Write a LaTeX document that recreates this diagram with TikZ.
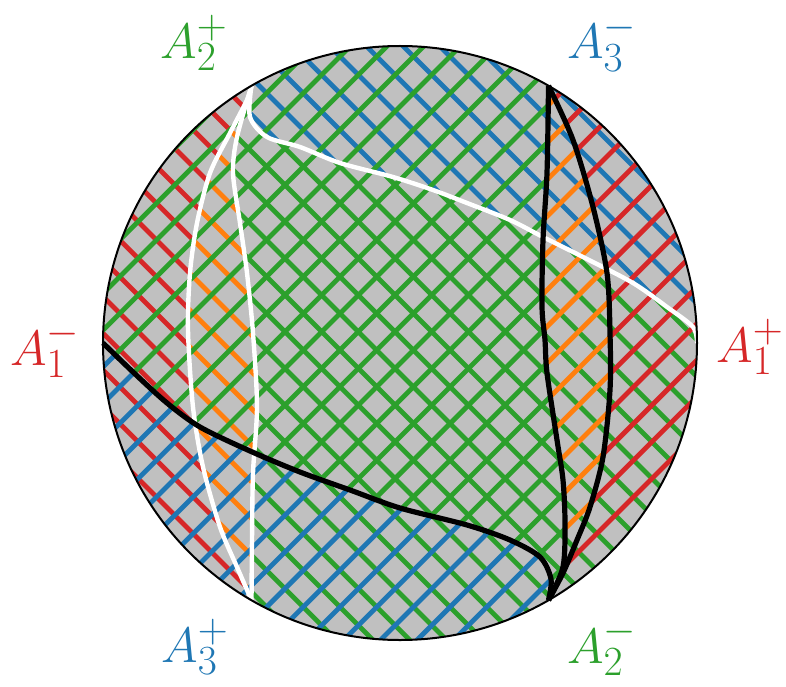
\documentclass[tikz,border=0pt]{standalone}
\usepackage{tikz}
\DeclareMathSizes{24}{24}{20}{16}

\definecolor{tabred}{RGB}{214,39,40}
\definecolor{tabblue}{RGB}{31,119,180}
\definecolor{tabgreen}{RGB}{44,160,44}
\definecolor{taborange}{RGB}{255,127,14}
\definecolor{diskgray}{RGB}{192,192,192}

% curves across the disk (need p0 ... p300 from the picture)
\def\blackmain{plot[smooth] coordinates {(p180) (-267,-29) (-233,-60) (-200,-84) (-150,-108) (-100,-129) (-50,-147) (0,-165) (67,-182) (110,-197) (140,-214) (151,-236) (p300)}}
\def\blackleft{plot[smooth] coordinates {(p60) (147,170) (143,103) (142,36) (145,3) (147,-30) (157,-97) (163,-137) (165,-180) (163,-224) (p300)}}
\def\blackright{plot[smooth] coordinates {(p60) (173,203) (193,136) (207,70) (210,10) (210,-47) (203,-114) (190,-164) (177,-197) (163,-230) (p300)}}
\def\whitetop{plot[smooth] coordinates {(p120) (-150,226) (-133,206) (-100,196) (-60,180) (-7,166) (33,153) (67,140) (110,123) (143,106) (183,86) (233,60) (267,36) (293,16) (p0)}}
\def\whiteleft{plot[smooth] coordinates {(p120) (-153,243) (-170,210) (-190,170) (-203,120) (-210,70) (-212,13) (-207,-64) (-197,-124) (-180,-184) (-163,-224) (p240)}}
\def\whiteright{plot[smooth] coordinates {(p120) (-163,206) (-167,170) (-160,120) (-153,70) (-147,10) (-143,-64) (-147,-130) (-148,-197) (p240)}}

\newcommand\hatchup[1]{\foreach \n in {-12,...,12} \draw[hatch,#1] ({20.5+36.7*\n-350},-350) -- ++(700,700);}
\newcommand\hatchdown[1]{\foreach \n in {-12,...,12} \draw[hatch,#1] ({6.3+36.7*\n+350},-350) -- ++(-700,700);}

\begin{document}
\begin{tikzpicture}[x=0.5pt, y=0.5pt,
    hatch/.style={line width=2.4pt},
    lbl/.style={font=\fontsize{24}{29}\selectfont, inner sep=0pt}]
  \useasboundingbox (-400,-343) rectangle (386,343);

  \foreach \a in {0,60,...,300} \coordinate (p\a) at (\a:297);

  \fill[diskgray] (0,0) circle[radius=297];

  \begin{scope}
    \clip (0,0) circle[radius=297];
    % hatching down to the right, split by the white curves
    \begin{scope}
      \clip \whiteleft -- (240:500) -- (180:600) -- (120:500) -- cycle;
      \hatchdown{tabred}
    \end{scope}
    \begin{scope}
      \clip \whiteleft -- (240:500) -- (300:600) -- (0:600) -- (60:600) -- (120:500) -- cycle;
      \clip \whiteright -- (240:500) -- (180:600) -- (120:500) -- cycle;
      \hatchdown{taborange}
    \end{scope}
    \begin{scope}
      \clip \whiteright -- (240:500) -- (300:600) -- (0:600) -- (60:600) -- (120:500) -- cycle;
      \clip \whitetop -- (0:500) -- (300:600) -- (240:600) -- (180:600) -- (120:500) -- cycle;
      \hatchdown{tabgreen}
    \end{scope}
    \begin{scope}
      \clip \whitetop -- (0:500) -- (60:600) -- (120:500) -- cycle;
      \hatchdown{tabblue}
    \end{scope}
    % hatching up to the right, split by the black curves
    \begin{scope}
      \clip \blackmain -- (300:500) -- (0:600) -- (60:600) -- (120:600) -- (180:500) -- cycle;
      \clip \blackleft -- (300:500) -- (240:600) -- (180:600) -- (120:600) -- (60:500) -- cycle;
      \hatchup{tabgreen}
    \end{scope}
    \begin{scope}
      \clip \blackmain -- (300:500) -- (240:600) -- (180:500) -- cycle;
      \hatchup{tabblue}
    \end{scope}
    \begin{scope}
      \clip \blackleft -- (300:500) -- (0:600) -- (60:500) -- cycle;
      \clip \blackright -- (300:500) -- (240:600) -- (180:600) -- (120:600) -- (60:500) -- cycle;
      \hatchup{taborange}
    \end{scope}
    \begin{scope}
      \clip \blackright -- (300:500) -- (0:600) -- (60:500) -- cycle;
      \hatchup{tabred}
    \end{scope}
  \end{scope}

  \draw[white, line width=2.2pt] \whitetop;
  \draw[white, line width=2.2pt] \whiteleft;
  \draw[white, line width=2.2pt] \whiteright;
  \draw[line width=2.6pt] \blackmain;
  \draw[line width=2.6pt] \blackleft;
  \draw[line width=2.6pt] \blackright;
  \draw[line width=1pt] (0,0) circle[radius=297];

  \node[lbl, text=tabred] (a1m) at (-355,-6) {$A_1^-$};
  \node[lbl, text=tabred] (a1p) at (350,-4) {$A_1^+$};
  \node[lbl, text=tabgreen] (a2p) at (-206,300) {$A_2^+$};
  \node[lbl, text=tabblue] (a3m) at (202,300) {$A_3^-$};
  \node[lbl, text=tabblue] (a3p) at (-205,-304) {$A_3^+$};
  \node[lbl, text=tabgreen] (a2m) at (202,-304) {$A_2^-$};
\end{tikzpicture}
\end{document}
